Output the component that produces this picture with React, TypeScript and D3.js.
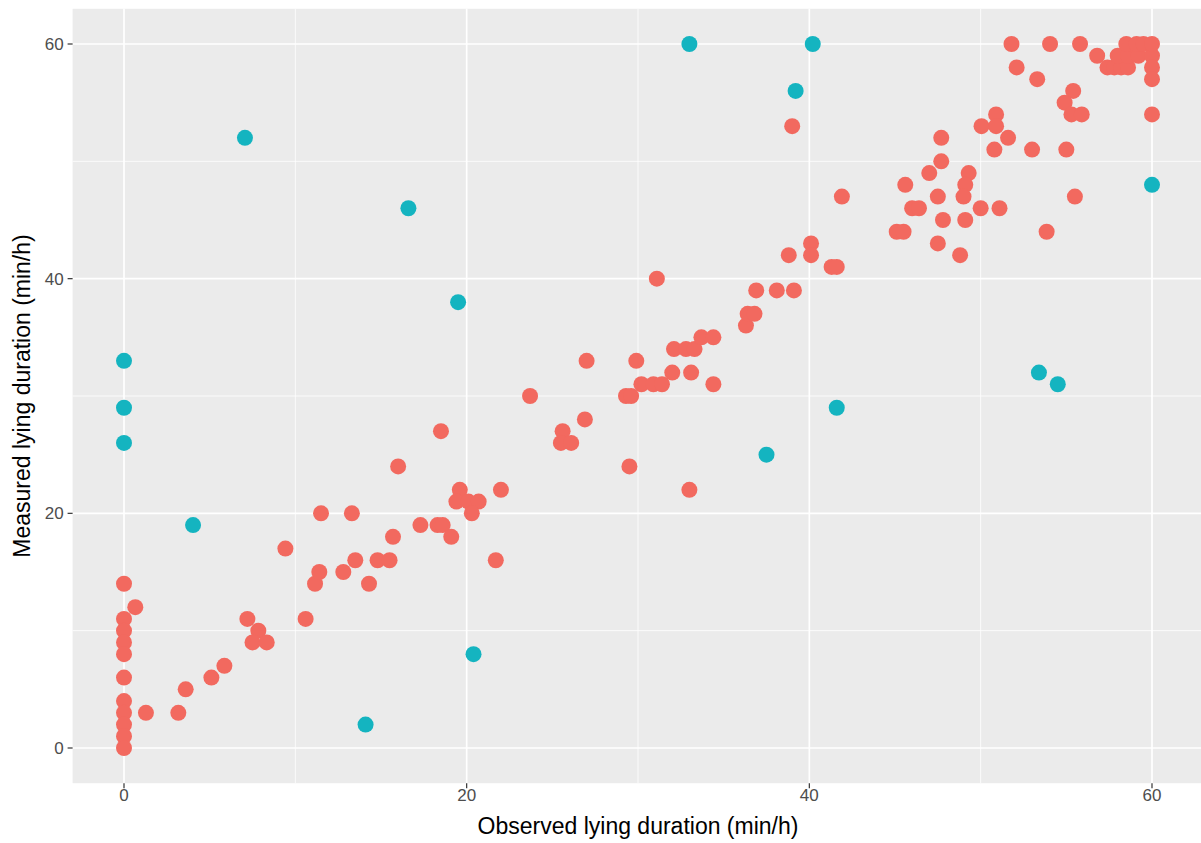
import * as d3 from 'd3';

// observed vs measured lying duration (min/h), two groups
const agreeX = [
  0, 0, 0, 0, 0, 0, 0, 0, 0, 0, 0,
  0.66, 1.28, 3.17, 3.6, 5.1, 5.86, 7.2, 7.84, 7.5, 8.33, 9.42, 10.6, 11.15, 11.4, 12.8, 13.5, 14.3, 14.8, 15.5,
  11.5, 13.3, 15.7, 16, 17.3, 18.3, 18.6, 18.5, 19.1, 19.6, 19.4, 20.1, 20.7, 20.3, 21.7, 22, 23.7,
  27, 29.9, 31.1, 26.9, 25.6, 25.5, 26.1, 29.5, 33, 29.3, 29.6, 30.2, 30.9, 31.4, 32, 33.1, 34.4,
  32.1, 32.8, 33.3, 33.7, 34.4, 36.3, 36.4, 36.8, 36.9, 38.1, 39.1, 38.8, 40.1, 40.1, 41.3, 41.6, 41.9, 39,
  51.8, 54.05, 55.8, 52.1, 53.3, 56.8, 57.4, 57.8, 58.2, 58.6, 58, 58.6, 59.2, 60, 58.5, 59.1, 59.5, 60, 60, 60, 60,
  55.4, 54.9, 55.3, 55.9, 50.9, 50.05, 50.9, 51.6, 47.7, 50.8, 53, 55, 47.7, 47, 49.3, 49.1, 49,
  45.6, 46, 46.4, 47.5, 47.8, 49.1, 50, 51.1, 45.1, 45.5, 47.5, 48.8, 53.85, 55.5,
];
const agreeY = [
  14, 11, 10, 9, 8, 6, 4, 3, 2, 1, 0,
  12, 3, 3, 5, 6, 7, 11, 10, 9, 9, 17, 11, 14, 15, 15, 16, 14, 16, 16,
  20, 20, 18, 24, 19, 19, 19, 27, 18, 22, 21, 21, 21, 20, 16, 22, 30,
  33, 33, 40, 28, 27, 26, 26, 24, 22, 30, 30, 31, 31, 31, 32, 32, 31,
  34, 34, 34, 35, 35, 36, 37, 37, 39, 39, 39, 42, 43, 42, 41, 41, 47, 53,
  60, 60, 60, 58, 57, 59, 58, 58, 58, 58, 59, 59, 59, 59, 60, 60, 60, 60, 58, 57, 54,
  56, 55, 54, 54, 54, 53, 53, 52, 52, 51, 51, 51, 50, 49, 49, 48, 47,
  48, 46, 46, 47, 45, 45, 46, 46, 44, 44, 43, 42, 44, 47,
];
const outlierX = [7.06, 16.6, 19.5, 0, 0, 0, 4.03, 14.1, 20.4, 33, 40.2, 39.2, 37.5, 41.6, 53.4, 54.5, 60];
const outlierY = [52, 46, 38, 33, 29, 26, 19, 2, 8, 60, 60, 56, 25, 29, 32, 31, 48];

const ticks = [0, 20, 40, 60];
const minorTicks = [10, 30, 50];

const W = 1201;
const H = 843;

export default function App() {
  const x = d3.scaleLinear().domain([-3, 63]).range([72.6, 1203.4]);
  const y = d3.scaleLinear().domain([-3, 63]).range([783.2, 8.8]);
  const font = '"Liberation Sans", Arial, sans-serif';

  const agree = agreeX.map((v, i) => [v, agreeY[i]]);
  const outl = outlierX.map((v, i) => [v, outlierY[i]]);

  return (
    <svg width={W} height={H} style={{ position: 'absolute', left: 0, top: 0, background: '#fff' }}>
      <rect x={x(-3)} y={y(63)} width={x(63) - x(-3)} height={y(-3) - y(63)} fill="#EBEBEB" />
      {/* minor grid */}
      {minorTicks.map((t) => (
        <g key={'m' + t}>
          <line x1={x(t)} x2={x(t)} y1={y(63)} y2={y(-3)} stroke="#fff" strokeWidth={0.8} />
          <line x1={x(-3)} x2={x(63)} y1={y(t)} y2={y(t)} stroke="#fff" strokeWidth={0.8} />
        </g>
      ))}
      {/* major grid */}
      {ticks.map((t) => (
        <g key={'g' + t}>
          <line x1={x(t)} x2={x(t)} y1={y(63)} y2={y(-3)} stroke="#fff" strokeWidth={1.7} />
          <line x1={x(-3)} x2={x(63)} y1={y(t)} y2={y(t)} stroke="#fff" strokeWidth={1.7} />
        </g>
      ))}
      {agree.map((d, i) => (
        <circle key={'a' + i} cx={x(d[0])} cy={y(d[1])} r={8} fill="#F2695F" />
      ))}
      {outl.map((d, i) => (
        <circle key={'o' + i} cx={x(d[0])} cy={y(d[1])} r={8} fill="#14B4C0" />
      ))}
      {/* axes */}
      {ticks.map((t) => (
        <g key={'x' + t}>
          <line x1={x(t)} x2={x(t)} y1={y(-3)} y2={y(-3) + 5} stroke="#333" strokeWidth={1.2} />
          <text x={x(t)} y={801} textAnchor="middle" fontFamily={font} fontSize={17} fill="#4D4D4D">
            {t}
          </text>
          <line x1={x(-3) - 5} x2={x(-3)} y1={y(t)} y2={y(t)} stroke="#333" strokeWidth={1.2} />
          <text x={x(-3) - 9} y={y(t) + 6} textAnchor="end" fontFamily={font} fontSize={17} fill="#4D4D4D">
            {t}
          </text>
        </g>
      ))}
      <text x={638} y={834} textAnchor="middle" fontFamily={font} fontSize={23} fill="#000">
        Observed lying duration (min/h)
      </text>
      <text
        transform={`translate(30, ${(y(-3) + y(63)) / 2}) rotate(-90)`}
        textAnchor="middle"
        fontFamily={font}
        fontSize={23}
        fill="#000"
      >
        Measured lying duration (min/h)
      </text>
    </svg>
  );
}
